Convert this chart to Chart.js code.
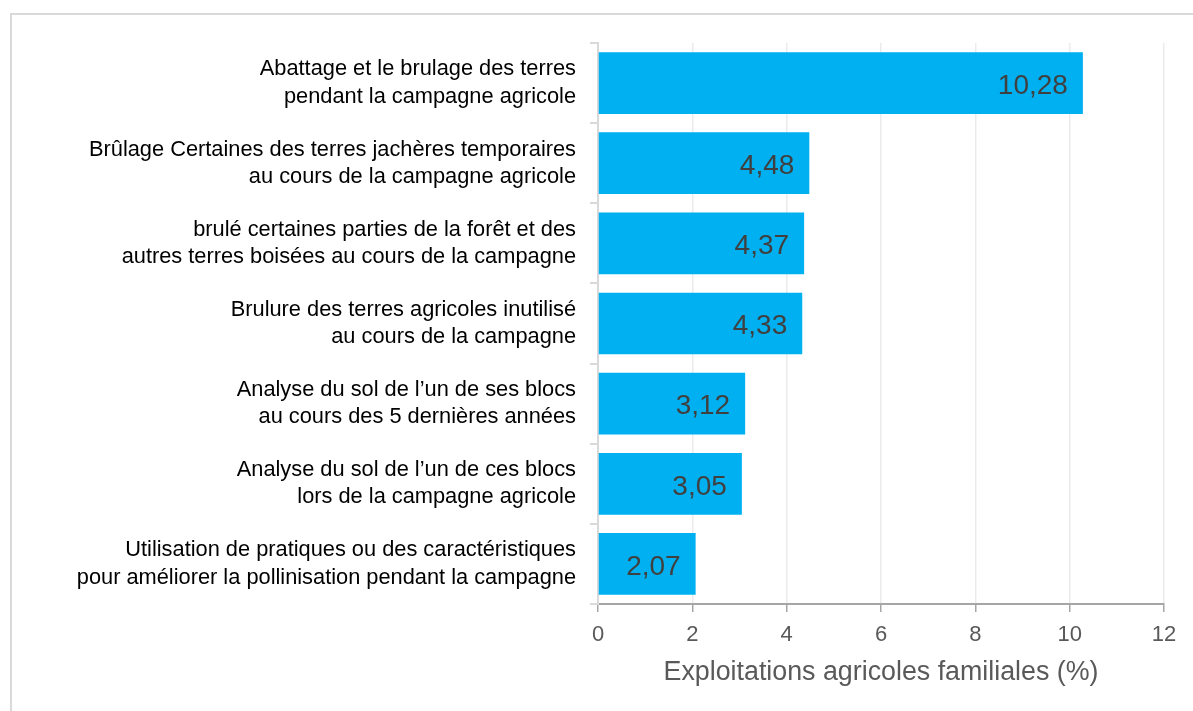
<!DOCTYPE html>
<html lang="fr">
<head>
<meta charset="utf-8">
<script src="https://cdn.jsdelivr.net/npm/chart.js@4/dist/chart.umd.min.js"></script>
<style>
  html, body { margin: 0; padding: 0; background: #fff; overflow: hidden; }
  #frame {
    position: absolute; left: 10px; top: 13px; width: 1300px; height: 800px;
    border-left: 2px solid #d9d9d9; border-top: 2px solid #d9d9d9;
  }
  #wrap { position: absolute; left: 0; top: 0; width: 1193px; height: 711px; }
</style>
</head>
<body>
<div id="frame"></div>
<div id="wrap"><canvas id="chart" width="1193" height="711"></canvas></div>
<script>
const categories = [
  ["Abattage et le brulage des terres", "pendant la campagne agricole"],
  ["Brûlage Certaines des terres jachères temporaires", "au cours de la campagne agricole"],
  ["brulé certaines parties de la forêt et des", "autres terres boisées au cours de la campagne"],
  ["Brulure des terres agricoles inutilisé", "au cours de la campagne"],
  ["Analyse du sol de l’un de ses blocs", "au cours des 5 dernières années"],
  ["Analyse du sol de l’un de ces blocs", "lors de la campagne agricole"],
  ["Utilisation de pratiques ou des caractéristiques", "pour améliorer la pollinisation pendant la campagne"]
];
const values = [10.28, 4.48, 4.37, 4.33, 3.12, 3.05, 2.07];
const xTicks = [0, 2, 4, 6, 8, 10, 12];
const axisTitle = "Exploitations agricoles familiales (%)";

const FONT = "'Liberation Sans', Arial, sans-serif";

// valeurs écrites à l'intérieur de la barre, calées à droite
const barValues = {
  id: "barValues",
  afterDatasetsDraw(chart) {
    const ctx = chart.ctx;
    const meta = chart.getDatasetMeta(0);
    ctx.save();
    ctx.font = "28px " + FONT;
    ctx.fillStyle = "#404040";
    ctx.textAlign = "right";
    ctx.textBaseline = "middle";
    meta.data.forEach((bar, i) => {
      const txt = values[i].toFixed(2).replace(".", ",");
      ctx.fillText(txt, bar.x - 15, bar.y + 3);
    });
    ctx.restore();
  }
};

new Chart(document.getElementById("chart"), {
  type: "bar",
  data: {
    labels: categories,
    datasets: [{
      data: values,
      backgroundColor: "#00b0f0",
      barPercentage: 0.77,
      categoryPercentage: 1
    }]
  },
  options: {
    indexAxis: "y",
    responsive: false,
    animation: false,
    layout: { padding: { top: 43, right: 29, bottom: 0, left: 0 } },
    plugins: { legend: { display: false }, tooltip: { enabled: false } },
    scales: {
      x: {
        min: 0,
        max: 12,
        afterBuildTicks(scale) { scale.ticks = xTicks.map(v => ({ value: v })); },
        afterFit(scale) { scale.height = 107; },
        grid: { color: "#ebebeb", tickColor: "#a6a6a6", tickLength: 8, lineWidth: 1.5 },
        border: { color: "#a6a6a6", width: 2 },
        ticks: { color: "#595959", font: { family: FONT, size: 22 }, padding: 10 },
        title: {
          display: true,
          text: axisTitle,
          color: "#595959",
          font: { family: FONT, size: 26.8 },
          padding: { top: 4, bottom: 22 }
        }
      },
      y: {
        afterFit(scale) { scale.width = 598; },
        grid: { offset: true, drawOnChartArea: false, color: "#d9d9d9", tickLength: 8, lineWidth: 2 },
        border: { color: "#d9d9d9", width: 2 },
        ticks: { color: "#000", font: { family: FONT, size: 21.8, lineHeight: 1.25 }, padding: 14 }
      }
    }
  },
  plugins: [barValues]
});
</script>
</body>
</html>
